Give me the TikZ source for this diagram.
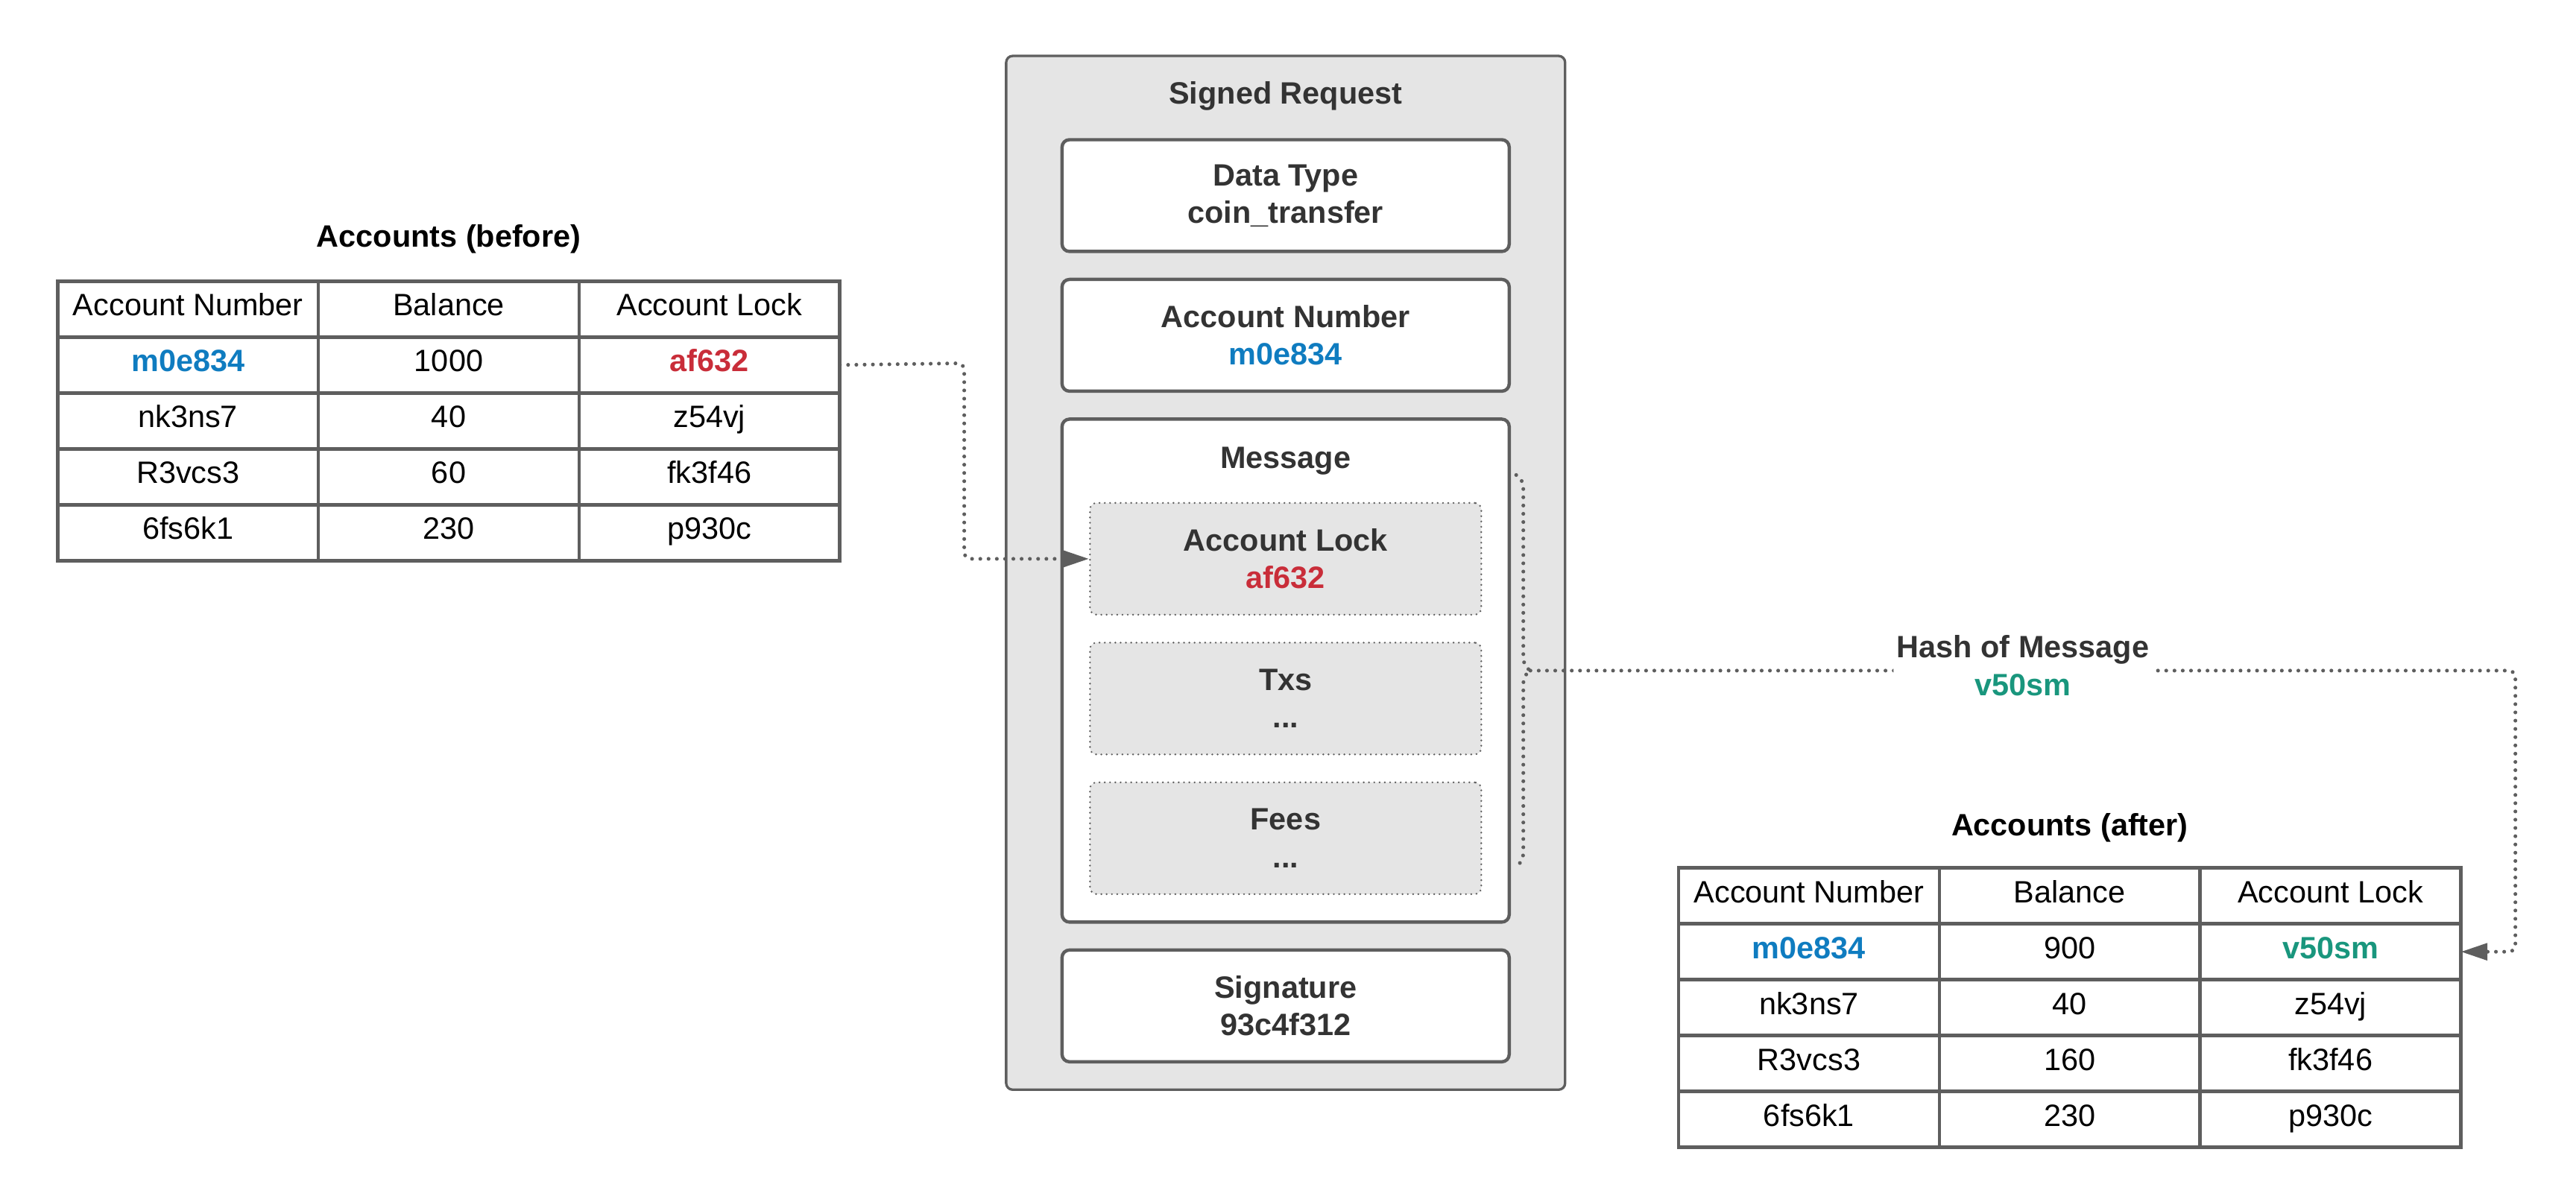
\documentclass[tikz,border=0pt]{standalone}
\usepackage{fontspec}
\setmainfont{Liberation Sans}
\usetikzlibrary{positioning,matrix,arrows.meta,decorations.pathreplacing}

\definecolor{linegray}{HTML}{5E5E5E}
\definecolor{boxgray}{HTML}{E5E5E5}
\definecolor{textgray}{HTML}{333333}
\definecolor{acctblue}{HTML}{0F7CC0}
\definecolor{lockred}{HTML}{C92D39}
\definecolor{hashgreen}{HTML}{19967D}

\newcommand{\diagfont}{\fontsize{18.7pt}{22.7pt}\selectfont}
\newcommand{\acctno}[1]{\textcolor{acctblue}{\bfseries #1}}
\newcommand{\oldlock}[1]{\textcolor{lockred}{\bfseries #1}}
\newcommand{\newlock}[1]{\textcolor{hashgreen}{\bfseries #1}}

\tikzset{
	cell/.style={draw=linegray, line width=2.1pt, minimum width=157.9pt, minimum height=33.85pt,
		text height=12.5pt, text depth=4.4pt, inner sep=0pt, outer sep=0pt, anchor=center, font=\diagfont},
	acctable/.style={matrix of nodes, nodes={cell}, inner sep=0pt, outer sep=0pt,
		column sep=-2.1pt, row sep=-2.1pt, anchor=north west},
	tabletitle/.style={font=\diagfont\bfseries},
	reqbox/.style={draw=linegray, line width=2pt, fill=white, rounded corners=4.5pt, minimum width=270.8pt,
		minimum height=67.7pt, align=center, text=textgray, font=\diagfont\bfseries},
	fieldbox/.style={draw=linegray, line width=1.2pt, dash pattern=on 0pt off 3.2pt, line cap=round, fill=boxgray,
		rounded corners=4pt, minimum width=236.95pt, minimum height=67.7pt, align=center, text=textgray,
		font=\diagfont\bfseries},
	dotlink/.style={draw=linegray, line width=2.3pt, dash pattern=on 0pt off 5pt, line cap=round, rounded corners=4pt},
	linkarrow/.style={-{Triangle[length=16pt,width=10pt]}},
	hashlabel/.style={fill=white, text=textgray, font=\diagfont\bfseries, align=center, inner sep=2pt}
}

\begin{document}
\begin{tikzpicture}[x=16.925pt, y=-16.925pt]
	\useasboundingbox (0,0) rectangle (92.17,43.01);

	\matrix (before) [acctable] at (2,10) {
		Account Number & Balance & Account Lock \\
		\acctno{m0e834} & 1000 & \oldlock{af632} \\
		nk3ns7 & 40 & z54vj \\
		R3vcs3 & 60 & fk3f46 \\
		6fs6k1 & 230 & p930c \\
	};
	\node [tabletitle, above=12pt of before] (beforetitle) {Accounts (before)};

	\node [draw=linegray, line width=1.5pt, fill=boxgray, rounded corners=4pt,
		minimum width=338.5pt, minimum height=626.2pt] (signed) at (46,20.5) {};
	\node [text=textgray, font=\diagfont\bfseries] (signedtitle) at (46,3.44) {Signed Request};
	\node [reqbox] (datatype) at (46,7) {Data Type\\coin\_transfer};
	\node [reqbox] (acctnum) at (46,12) {Account Number\\\acctno{m0e834}};
	\node [reqbox, minimum height=304.65pt] (message) at (46,24) {};
	\node [text=textgray, font=\diagfont\bfseries] (msgtitle) at (46,16.49) {Message};
	\node [fieldbox] (lock) at (46,20) {Account Lock\\\oldlock{af632}};
	\node [fieldbox] (txs) at (46,25) {Txs\\...};
	\node [fieldbox] (fees) at (46,30) {Fees\\...};
	\node [reqbox] (signature) at (46,36) {Signature\\93c4f312};

	\matrix (after) [acctable] at (60,31) {
		Account Number & Balance & Account Lock \\
		\acctno{m0e834} & 900 & \newlock{v50sm} \\
		nk3ns7 & 40 & z54vj \\
		R3vcs3 & 160 & fk3f46 \\
		6fs6k1 & 230 & p930c \\
	};
	\node [tabletitle, above=11pt of after] (aftertitle) {Accounts (after)};

	\coordinate (lockturn) at (34.5,13);
	\draw [dotlink, linkarrow] (before-2-3.east) -- (lockturn) |- (lock.west);

	\draw [dotlink, sharp corners, decorate, decoration={brace, amplitude=8.6pt, aspect=0.5}] (54.25,17) -- (54.25,31);
	\coordinate (bracetip) at (54.76,24);
	\coordinate (hashturn) at (90,24);
	\draw [dotlink, linkarrow] (bracetip) -- node [hashlabel, yshift=3pt] (hash) {Hash of Message\\\newlock{v50sm}}
		(hashturn) |- (after-2-3.east);
\end{tikzpicture}
\end{document}
